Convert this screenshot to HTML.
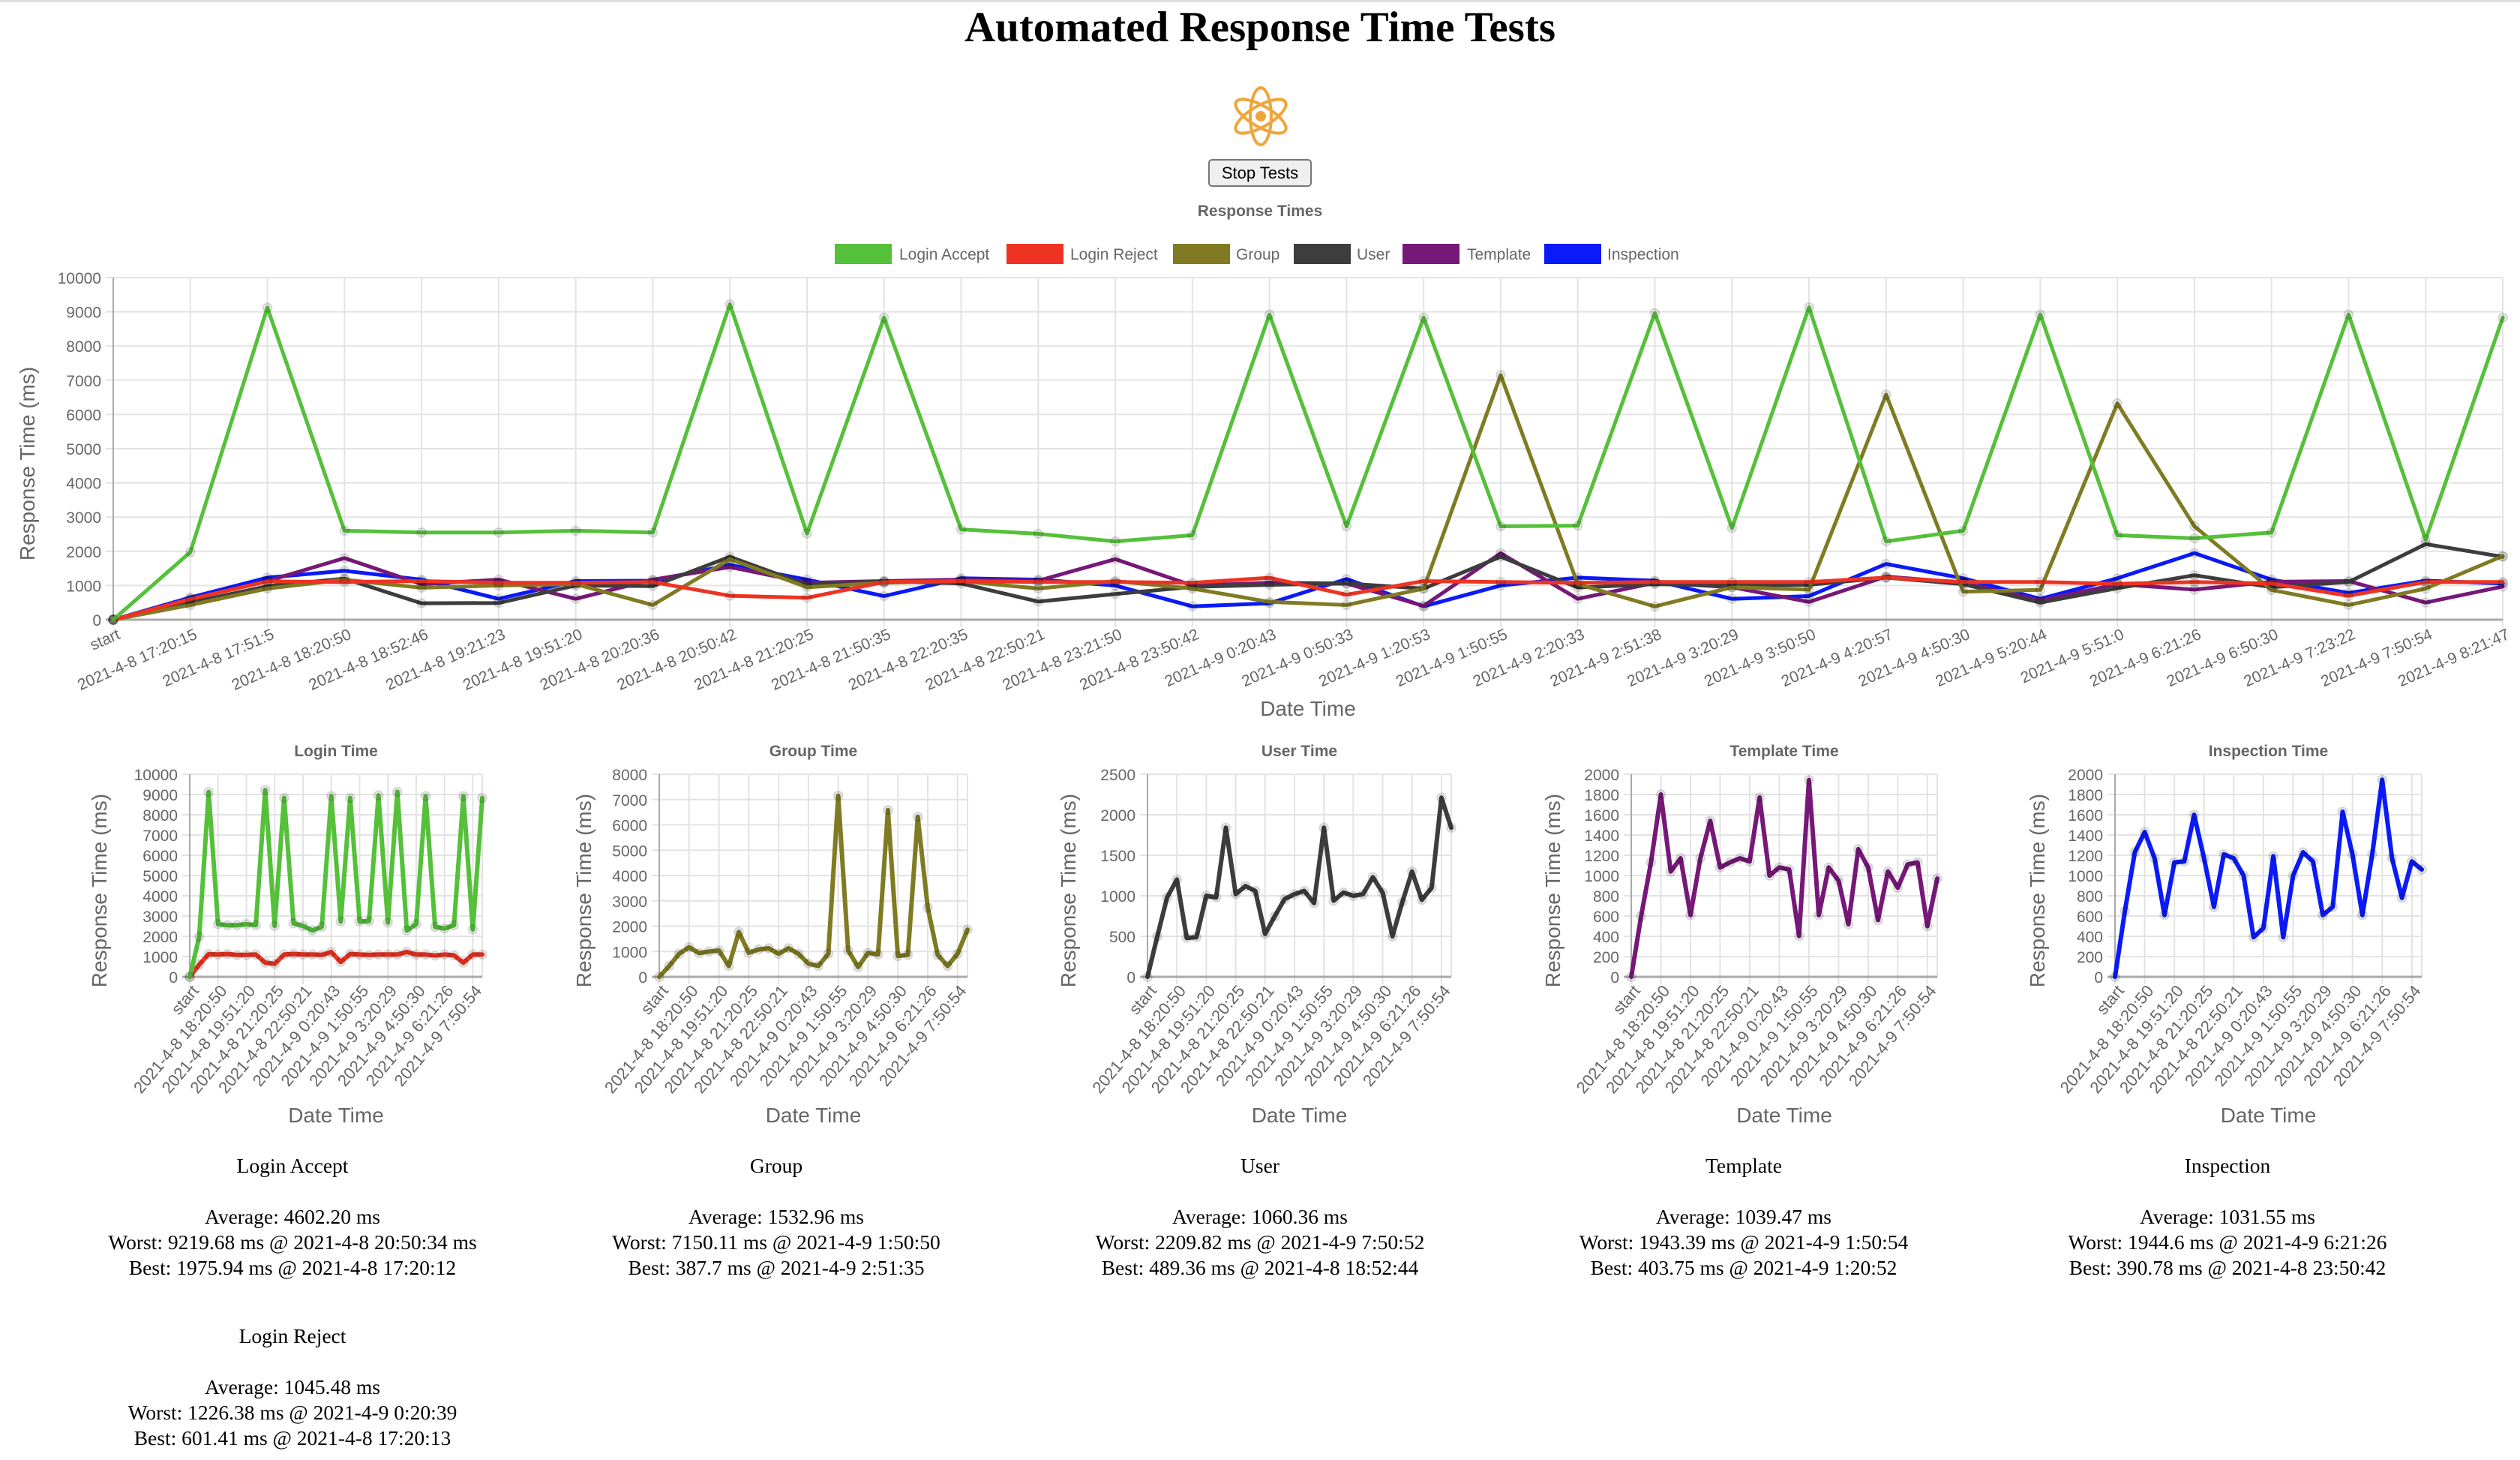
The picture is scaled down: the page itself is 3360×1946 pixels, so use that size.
<!DOCTYPE html>
<html><head><meta charset="utf-8">
<style>
html,body{margin:0;padding:0;background:#fff;}
body{width:3360px;height:1946px;position:relative;overflow:hidden;font-family:"Liberation Serif",serif;}
.abs{position:absolute;}
#topline{left:0;top:0;width:3360px;height:3px;background:#ddd;}
#title{left:0;top:4px;width:3360px;text-align:center;font-weight:bold;font-size:57px;line-height:66px;color:#000;}
#stop{left:1611px;top:212px;width:138px;height:37px;box-sizing:border-box;background:#efefef;border:2px solid #767676;border-radius:5px;font-family:"Liberation Sans",sans-serif;font-size:22px;line-height:33px;text-align:center;color:#000;}
.sum{width:646px;text-align:center;font-size:27.5px;line-height:34px;color:#000;}
</style></head>
<body>
<div id="topline" class="abs"></div>
<div id="title" class="abs">Automated Response Time Tests</div>
<svg class="abs" style="left:1640px;top:114px" width="82" height="82" viewBox="-41 -41 82 82">
<g fill="none" stroke="#f0a53a" stroke-width="4">
<ellipse rx="14" ry="38"/><ellipse rx="14" ry="38" transform="rotate(60)"/><ellipse rx="14" ry="38" transform="rotate(-60)"/>
</g><circle r="7" fill="#f0a53a"/></svg>
<div id="stop" class="abs">Stop Tests</div>

<svg id="chart" class="abs" style="left:0;top:0" width="3360" height="1946"></svg>

<div class="abs sum" style="left:67px;top:1537px">Login Accept<br><br>Average: 4602.20 ms<br>Worst: 9219.68 ms @ 2021-4-8 20:50:34 ms<br>Best: 1975.94 ms @ 2021-4-8 17:20:12</div>
<div class="abs sum" style="left:712px;top:1537px">Group<br><br>Average: 1532.96 ms<br>Worst: 7150.11 ms @ 2021-4-9 1:50:50<br>Best: 387.7 ms @ 2021-4-9 2:51:35</div>
<div class="abs sum" style="left:1357px;top:1537px">User<br><br>Average: 1060.36 ms<br>Worst: 2209.82 ms @ 2021-4-9 7:50:52<br>Best: 489.36 ms @ 2021-4-8 18:52:44</div>
<div class="abs sum" style="left:2002px;top:1537px">Template<br><br>Average: 1039.47 ms<br>Worst: 1943.39 ms @ 2021-4-9 1:50:54<br>Best: 403.75 ms @ 2021-4-9 1:20:52</div>
<div class="abs sum" style="left:2647px;top:1537px">Inspection<br><br>Average: 1031.55 ms<br>Worst: 1944.6 ms @ 2021-4-9 6:21:26<br>Best: 390.78 ms @ 2021-4-8 23:50:42</div>
<div class="abs sum" style="left:67px;top:1764px">Login Reject<br><br>Average: 1045.48 ms<br>Worst: 1226.38 ms @ 2021-4-9 0:20:39<br>Best: 601.41 ms @ 2021-4-8 17:20:13</div>

<script>
const categories = ["start","2021-4-8 17:20:15","2021-4-8 17:51:5","2021-4-8 18:20:50","2021-4-8 18:52:46","2021-4-8 19:21:23","2021-4-8 19:51:20","2021-4-8 20:20:36","2021-4-8 20:50:42","2021-4-8 21:20:25","2021-4-8 21:50:35","2021-4-8 22:20:35","2021-4-8 22:50:21","2021-4-8 23:21:50","2021-4-8 23:50:42","2021-4-9 0:20:43","2021-4-9 0:50:33","2021-4-9 1:20:53","2021-4-9 1:50:55","2021-4-9 2:20:33","2021-4-9 2:51:38","2021-4-9 3:20:29","2021-4-9 3:50:50","2021-4-9 4:20:57","2021-4-9 4:50:30","2021-4-9 5:20:44","2021-4-9 5:51:0","2021-4-9 6:21:26","2021-4-9 6:50:30","2021-4-9 7:23:22","2021-4-9 7:50:54","2021-4-9 8:21:47"];
const loginAccept = [0,1976,9120,2600,2550,2550,2600,2550,9220,2520,8830,2640,2510,2290,2470,8920,2730,8830,2730,2750,8960,2680,9130,2290,2600,8920,2470,2380,2550,8920,2340,8830];
const loginReject = [0,600,1120,1100,1130,1080,1080,1100,700,640,1100,1130,1100,1100,1080,1226,730,1130,1100,1080,1100,1100,1100,1230,1100,1100,1050,1100,1060,700,1100,1100];
const group = [0,430,910,1170,935,1000,1040,430,1770,950,1080,1130,910,1130,910,520,430,910,7150,1040,388,950,880,6580,820,870,6320,2730,870,430,910,1860];
const user = [0,500,980,1200,480,490,1000,980,1840,1020,1120,1060,530,750,960,1020,1060,910,1840,940,1040,1000,1020,1230,1040,500,920,1300,950,1100,2210,1840];
const template = [0,600,1130,1800,1040,1170,610,1170,1540,1080,1130,1170,1140,1770,1000,1080,1060,404,1943,610,1080,950,520,1260,1080,560,1040,880,1110,1130,500,970];
const inspection = [0,650,1230,1430,1170,610,1130,1140,1600,1170,690,1210,1170,1000,391,480,1190,390,1000,1230,1140,610,690,1630,1210,610,1210,1945,1170,780,1140,1060];
const mainTicks = [0,1000,2000,3000,4000,5000,6000,7000,8000,9000,10000];
const groupTicks = [0,1000,2000,3000,4000,5000,6000,7000,8000];
const userTicks = [0,500,1000,1500,2000,2500];
const tmplTicks = [0,200,400,600,800,1000,1200,1400,1600,1800,2000];

const svg = document.getElementById('chart');
const NS = 'http://www.w3.org/2000/svg';
function mk(tag, attrs, parent){const e=document.createElementNS(NS,tag);for(const k in attrs)e.setAttribute(k,attrs[k]);(parent||svg).appendChild(e);return e;}
const SANS='"Liberation Sans", sans-serif';
const COL={la:'#55c03a',lr:'#ee3322',gr:'#807b22',us:'#3d3d3d',tp:'#761878',in:'#0a1af8'};

function drawChart(o){
  const g=mk('g',{});
  
  
  const n=categories.length;
  const xs=i=>o.left+(o.right-o.left)*i/(n-1);
  const ymax=o.ticks[o.ticks.length-1];
  const ys=v=>o.bottom-(o.bottom-o.top)*v/ymax;
  for(let i=0;i<n;i+=o.step){
    const l=mk('line',{x1:xs(i),x2:xs(i),y1:o.top,y2:o.bottom+10,stroke:'#e3e3e3','stroke-width':2},g);
    
    
  }
  if(o.step>1){mk('line',{x1:o.right,x2:o.right,y1:o.top,y2:o.bottom,stroke:'#e3e3e3','stroke-width':2},g);}
  o.ticks.forEach(t=>{
    const l=mk('line',{x1:o.left-10,x2:o.right,y1:ys(t),y2:ys(t),stroke:t===0?'#aaa':'#e3e3e3','stroke-width':t===0?3:2},g);
    
    
    const tx=mk('text',{x:o.left-16,y:ys(t)+8,'text-anchor':'end','font-family':SANS,'font-size':o.fs,fill:'#666'},g);
    tx.textContent=t;
    
    
  });
  mk('line',{x1:o.left,x2:o.left,y1:o.top,y2:o.bottom,stroke:'#aaa','stroke-width':2},g);
  for(let i=0;i<n;i+=o.step){
    const x=xs(i),y=o.bottom+16;
    const tx=mk('text',{x:x+6,y:y+12,'text-anchor':'end','font-family':SANS,'font-size':o.lfs||o.fs,fill:'#666',transform:`rotate(${-o.angle} ${x} ${y})`},g);
    tx.textContent=categories[i];
    
    
  }
  const yt=mk('text',{x:o.ytX,y:(o.top+o.bottom)/2+20,'text-anchor':'middle','font-family':SANS,'font-size':28,fill:'#666',transform:`rotate(-90 ${o.ytX} ${(o.top+o.bottom)/2+20})`},g);
  yt.textContent='Response Time (ms)';
  
  
  const xt=mk('text',{x:(o.left+o.right)/2,y:o.xtY,'text-anchor':'middle','font-family':SANS,'font-size':28,fill:'#666'},g);
  xt.textContent='Date Time';
  
  
  if(o.title){
    const tt=mk('text',{x:(o.left+o.right)/2,y:o.titleY,'text-anchor':'middle','font-family':SANS,'font-size':21,'font-weight':'bold',fill:'#666'},g);
    tt.textContent=o.title;
    
    
  }
  o.series.forEach(s=>{
    const pts=s.data.map((v,i)=>xs(i).toFixed(1)+','+ys(v).toFixed(1)).join(' ');
    const pl=mk('polyline',{points:pts,fill:'none',stroke:s.color,'stroke-width':o.lw,'stroke-linejoin':'round','stroke-linecap':'round'},g);
    
    
    s.data.forEach((v,i)=>{
      const c=mk('circle',{cx:xs(i),cy:ys(v),r:o.pr,fill:'rgba(0,0,0,0.1)',stroke:'rgba(0,0,0,0.1)','stroke-width':2},g);
      
      
    });
  });
}

drawChart({name:'main-chart',left:151,right:3337,top:370,bottom:826,ticks:mainTicks,step:1,angle:24,fs:21,lw:5,pr:6,ytX:46,xtY:954,
  series:[{key:'inspection',data:inspection,color:COL.in},{key:'template',data:template,color:COL.tp},{key:'user',data:user,color:COL.us},{key:'group',data:group,color:COL.gr},{key:'login-reject',data:loginReject,color:COL.lr},{key:'login-accept',data:loginAccept,color:COL.la}]});

const legend=[['Login Accept',COL.la,1113,1199],['Login Reject',COL.lr,1342,1427],['Group',COL.gr,1564,1648],['User',COL.us,1725,1809],['Template',COL.tp,1870,1956],['Inspection',COL.in,2059,2143]];
legend.forEach(l=>{
  const r=mk('rect',{x:l[2],y:325,width:76,height:27,fill:l[1]});
  
  
  const t=mk('text',{x:l[3],y:346,'font-family':SANS,'font-size':21,fill:'#666'});
  t.textContent=l[0];
  
  
});
const mt=mk('text',{x:1680,y:288,'text-anchor':'middle','font-family':SANS,'font-size':21,'font-weight':'bold',fill:'#666'});
mt.textContent='Response Times';



const smalls=[
 {name:'login-time-chart',title:'Login Time',left:253,right:643,ticks:mainTicks,series:[{key:'login-reject',data:loginReject,color:COL.lr},{key:'login-accept',data:loginAccept,color:COL.la}]},
 {name:'group-time-chart',title:'Group Time',left:879,right:1290,ticks:groupTicks,series:[{key:'group',data:group,color:COL.gr}]},
 {name:'user-time-chart',title:'User Time',left:1530,right:1935,ticks:userTicks,series:[{key:'user',data:user,color:COL.us}]},
 {name:'template-time-chart',title:'Template Time',left:2175,right:2583,ticks:tmplTicks,series:[{key:'template',data:template,color:COL.tp}]},
 {name:'inspection-time-chart',title:'Inspection Time',left:2820,right:3229,ticks:tmplTicks,series:[{key:'inspection',data:inspection,color:COL.in}]}
];
smalls.forEach((c,i)=>{
  drawChart(Object.assign({top:1032,bottom:1302,step:3,angle:50,fs:21,lfs:22,lw:6,pr:6,ytX:142+646*i,xtY:1496,titleY:1008},c));
});
</script>
</body></html>
